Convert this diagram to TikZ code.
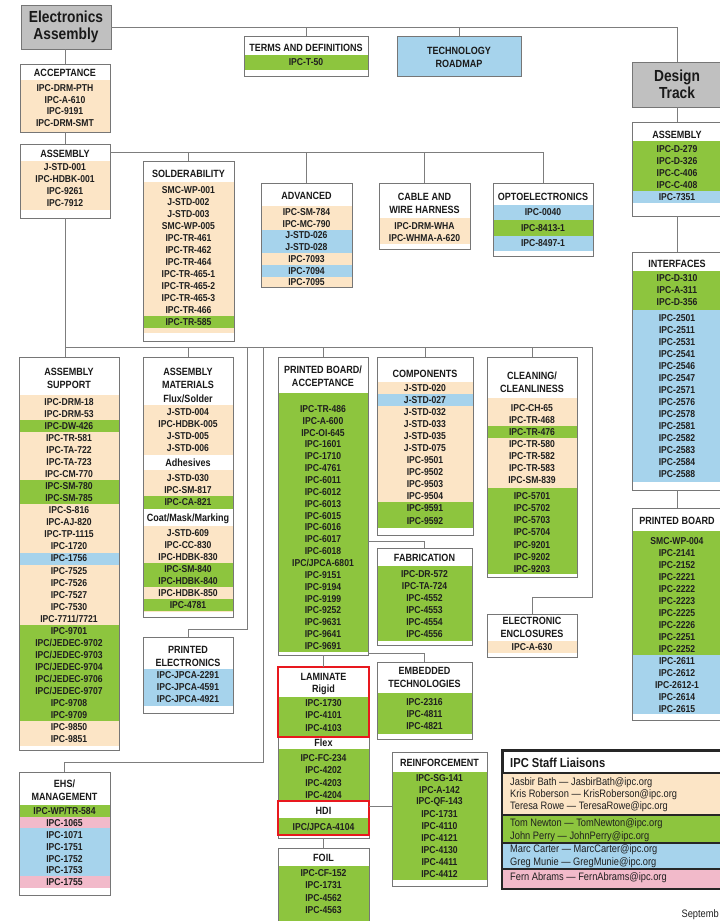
\documentclass[tikz,border=0pt]{standalone}
\usepackage{fontspec}
\setmainfont{Liberation Sans}[FakeStretch=0.86]
\usetikzlibrary{calc}
\definecolor{cTan}{RGB}{252,229,198}
\definecolor{cGrn}{RGB}{141,197,62}
\definecolor{cBlu}{RGB}{166,211,236}
\definecolor{cPnk}{RGB}{242,186,202}
\definecolor{hdrgray}{RGB}{192,192,192}
\definecolor{bordgray}{RGB}{118,118,118}
\definecolor{linegray}{RGB}{125,125,125}
\definecolor{redb}{RGB}{232,24,30}
\tikzset{
 boxnode/.style={draw=bordgray, line width=0.9pt, fill=white, inner sep=0pt, outer sep=0pt, rectangle},
 bordline/.style={draw=bordgray, line width=0.9pt},
 conn/.style={draw=linegray, line width=0.8pt},
 itemtext/.style={font=\fontsize{10}{11}\selectfont\bfseries, inner sep=0pt, text=black!88},
 headtext/.style={font=\fontsize{10.5}{13}\selectfont\bfseries, inner sep=0pt, align=center, text=black!90},
 bighead/.style={font=\fontsize{16}{17.5}\selectfont\bfseries, inner sep=0pt, align=center, text=black!90},
 redframe/.style={draw=redb, line width=2.4pt},
 liais/.style={font=\fontsize{10.8}{12}\selectfont, inner sep=0pt, anchor=west, text=black!88},
}
\newcount\nodeno
\newcommand\mkbox[5]{%
  \gdef\bxl{#2}\gdef\bxr{#4}%
  \node[boxnode, minimum width={(#4)-(#2)}, minimum height={(#5)-(#3)}] (#1) at ({((#2)+(#4))/2},{((#3)+(#5))/2}) {};}
\newcommand\mkband[3]{\fill[#1] (\bxl,#2) rectangle (\bxr,#3);}
\newcommand\mkitem[2]{\global\advance\nodeno by 1
  \node[itemtext] (n\the\nodeno) at ({(\bxl+\bxr)/2},#1) {#2};}
\newcommand\mkhead[2]{\global\advance\nodeno by 1
  \node[headtext] (n\the\nodeno) at ({(\bxl+\bxr)/2},#1) {#2};}
\newcommand\mkborder[1]{\draw[bordline] (#1.south west) rectangle (#1.north east);}
\begin{document}
\begin{tikzpicture}[x=1pt,y=-1pt]
\useasboundingbox (0,0) rectangle (720,921);
\clip (0,0) rectangle (720,921);
% ---------- top boxes
\node[boxnode, fill=hdrgray, minimum width=90, minimum height=44] (ea) at (66,27) {};
\node[bighead] (eat) at (ea.center) {Electronics\\Assembly};
\node[boxnode, fill=hdrgray, minimum width=90, minimum height=45] (dt) at (677,84.5) {};
\node[bighead] (dtt) at (dt.center) {Design\\Track};

\mkbox{terms}{244}{36}{368}{76}
\mkband{cGrn}{55}{70}
\mkhead{48}{TERMS AND DEFINITIONS}
\mkitem{62.5}{IPC-T-50}
\mkborder{terms}

\mkbox{tech}{397}{36}{521}{76}
\mkband{cBlu}{36}{76}
\mkhead{57}{TECHNOLOGY\\ROADMAP}
\mkborder{tech}

% ---------- left column
\mkbox{acc}{20}{64}{110}{132}
\mkband{cTan}{80}{132}
\mkhead{73}{ACCEPTANCE}
\foreach \t [count=\k from 0] in {IPC-DRM-PTH,IPC-A-610,IPC-9191,IPC-DRM-SMT} {\mkitem{88+11.6*\k}{\t}}
\mkborder{acc}

\mkbox{asml}{20}{144}{110}{218}
\mkband{cTan}{161}{210}
\mkhead{154}{ASSEMBLY}
\foreach \t [count=\k from 0] in {J-STD-001,IPC-HDBK-001,IPC-9261,IPC-7912} {\mkitem{167+12*\k}{\t}}
\mkborder{asml}

\mkbox{asup}{19}{357}{119}{750}
\mkband{cTan}{395}{746}
\mkband{cGrn}{402+12.04*2-6}{402+12.04*2+6}
\mkband{cGrn}{402+12.04*7-6}{402+12.04*8+6}
\mkband{cBlu}{402+12.04*13-6}{402+12.04*13+6}
\mkband{cGrn}{402+12.04*19-6}{402+12.04*26+6}
\mkhead{378.5}{ASSEMBLY\\SUPPORT}
\foreach \t [count=\k from 0] in {IPC-DRM-18,IPC-DRM-53,IPC-DW-426,IPC-TR-581,IPC-TA-722,IPC-TA-723,IPC-CM-770,IPC-SM-780,IPC-SM-785,IPC-S-816,IPC-AJ-820,IPC-TP-1115,IPC-1720,IPC-1756,IPC-7525,IPC-7526,IPC-7527,IPC-7530,{IPC-7711/7721},IPC-9701,{IPC/JEDEC-9702},{IPC/JEDEC-9703},{IPC/JEDEC-9704},{IPC/JEDEC-9706},{IPC/JEDEC-9707},IPC-9708,IPC-9709,IPC-9850,IPC-9851} {\mkitem{402+12.04*\k}{\t}}
\mkborder{asup}

\mkbox{ehs}{19}{772}{110}{895}
\mkband{cGrn}{805}{817}
\mkband{cPnk}{817}{828}
\mkband{cBlu}{828}{876}
\mkband{cPnk}{876}{888}
\mkhead{790}{EHS/\\MANAGEMENT}
\foreach \t [count=\k from 0] in {{IPC-WP/TR-584},IPC-1065,IPC-1071,IPC-1751,IPC-1752,IPC-1753,IPC-1755} {\mkitem{811+11.9*\k}{\t}}
\mkborder{ehs}

% ---------- second row, top
\mkbox{sold}{143}{161}{234}{341}
\mkband{cTan}{182}{333}
\mkband{cGrn}{316}{328}
\mkhead{174}{SOLDERABILITY}
\foreach \t [count=\k from 0] in {SMC-WP-001,J-STD-002,J-STD-003,SMC-WP-005,IPC-TR-461,IPC-TR-462,IPC-TR-464,IPC-TR-465-1,IPC-TR-465-2,IPC-TR-465-3,IPC-TR-466,IPC-TR-585} {\mkitem{190+12*\k}{\t}}
\mkborder{sold}

\mkbox{adv}{261}{183}{352}{287}
\mkband{cTan}{206}{287}
\mkband{cBlu}{229.6}{253.1}
\mkband{cBlu}{264.9}{276.6}
\mkhead{196}{ADVANCED}
\foreach \t [count=\k from 0] in {IPC-SM-784,IPC-MC-790,J-STD-026,J-STD-028,IPC-7093,IPC-7094,IPC-7095} {\mkitem{212+11.75*\k}{\t}}
\mkborder{adv}

\mkbox{cable}{379}{183}{470}{249}
\mkband{cTan}{218}{244}
\mkhead{203.5}{CABLE AND\\WIRE HARNESS}
\mkitem{226}{IPC-DRM-WHA}
\mkitem{238}{IPC-WHMA-A-620}
\mkborder{cable}

\mkbox{opto}{493}{183}{593}{256}
\mkband{cBlu}{205}{251}
\mkband{cGrn}{220}{236}
\mkhead{197}{OPTOELECTRONICS}
\mkitem{212.5}{IPC-0040}
\mkitem{228}{IPC-8413-1}
\mkitem{243.5}{IPC-8497-1}
\mkborder{opto}

% ---------- right column
\mkbox{rasm}{632}{122}{722}{216}
\mkband{cGrn}{141}{191}
\mkband{cBlu}{191}{203}
\mkhead{134.5}{ASSEMBLY}
\foreach \t [count=\k from 0] in {IPC-D-279,IPC-D-326,IPC-C-406,IPC-C-408,IPC-7351} {\mkitem{149+12*\k}{\t}}
\mkborder{rasm}

\mkbox{intf}{632}{252}{722}{490}
\mkband{cGrn}{271}{310}
\mkband{cBlu}{310}{482}
\mkhead{263.5}{INTERFACES}
\foreach \t [count=\k from 0] in {IPC-D-310,IPC-A-311,IPC-D-356} {\mkitem{278+12*\k}{\t}}
\foreach \t [count=\k from 0] in {IPC-2501,IPC-2511,IPC-2531,IPC-2541,IPC-2546,IPC-2547,IPC-2571,IPC-2576,IPC-2578,IPC-2581,IPC-2582,IPC-2583,IPC-2584,IPC-2588} {\mkitem{318+12*\k}{\t}}
\mkborder{intf}

\mkbox{rpb}{632}{508}{722}{720}
\mkband{cGrn}{531}{655}
\mkband{cBlu}{655}{714}
\mkhead{521}{PRINTED BOARD}
\foreach \t [count=\k from 0] in {SMC-WP-004,IPC-2141,IPC-2152,IPC-2221,IPC-2222,IPC-2223,IPC-2225,IPC-2226,IPC-2251,IPC-2252,IPC-2611,IPC-2612,IPC-2612-1,IPC-2614,IPC-2615} {\mkitem{541+12*\k}{\t}}
\mkborder{rpb}

% ---------- middle columns
\mkbox{amat}{143}{357}{233}{617}
\mkband{cTan}{405}{455}
\mkband{cTan}{470}{509}
\mkband{cGrn}{496}{509}
\mkband{cTan}{526}{612}
\mkband{cGrn}{563}{587}
\mkband{cGrn}{599}{611}
\mkhead{378.5}{ASSEMBLY\\MATERIALS}
\mkhead{398.5}{Flux/Solder}
\foreach \t [count=\k from 0] in {J-STD-004,IPC-HDBK-005,J-STD-005,J-STD-006} {\mkitem{412+12*\k}{\t}}
\mkhead{463}{Adhesives}
\foreach \t [count=\k from 0] in {J-STD-030,IPC-SM-817,IPC-CA-821} {\mkitem{478+12.2*\k}{\t}}
\mkhead{519}{Coat/Mask/Marking}
\foreach \t [count=\k from 0] in {J-STD-609,IPC-CC-830,IPC-HDBK-830,IPC-SM-840,IPC-HDBK-840,IPC-HDBK-850,IPC-4781} {\mkitem{533+12*\k}{\t}}
\mkborder{amat}

\mkbox{pe}{143}{637}{233}{713}
\mkband{cBlu}{669}{706}
\mkhead{656}{PRINTED\\ELECTRONICS}
\foreach \t [count=\k from 0] in {IPC-JPCA-2291,IPC-JPCA-4591,IPC-JPCA-4921} {\mkitem{675+12*\k}{\t}}
\mkborder{pe}

\mkbox{pba}{278}{357}{368}{655}
\mkband{cGrn}{393}{652}
\mkhead{376.5}{PRINTED BOARD/\\ACCEPTANCE}
\foreach \t [count=\k from 0] in {IPC-TR-486,IPC-A-600,IPC-OI-645,IPC-1601,IPC-1710,IPC-4761,IPC-6011,IPC-6012,IPC-6013,IPC-6015,IPC-6016,IPC-6017,IPC-6018,{IPC/JPCA-6801},IPC-9151,IPC-9194,IPC-9199,IPC-9252,IPC-9631,IPC-9641,IPC-9691} {\mkitem{409+11.85*\k}{\t}}
\mkborder{pba}

\mkbox{comp}{377}{357}{473}{535}
\mkband{cTan}{382}{502}
\mkband{cBlu}{394}{406}
\mkband{cGrn}{502}{528}
\mkhead{373.5}{COMPONENTS}
\foreach \t [count=\k from 0] in {J-STD-020,J-STD-027,J-STD-032,J-STD-033,J-STD-035,J-STD-075,IPC-9501,IPC-9502,IPC-9503,IPC-9504} {\mkitem{388+12*\k}{\t}}
\mkitem{508.5}{IPC-9591}
\mkitem{521}{IPC-9592}
\mkborder{comp}

\mkbox{fab}{377}{548}{472}{645}
\mkband{cGrn}{566}{641}
\mkhead{557.5}{FABRICATION}
\foreach \t [count=\k from 0] in {IPC-DR-572,IPC-TA-724,IPC-4552,IPC-4553,IPC-4554,IPC-4556} {\mkitem{574+12*\k}{\t}}
\mkborder{fab}

\mkbox{clean}{487}{357}{577}{577}
\mkband{cTan}{398}{488}
\mkband{cGrn}{426}{438}
\mkband{cGrn}{488}{574}
\mkhead{382.5}{CLEANING/\\CLEANLINESS}
\foreach \t [count=\k from 0] in {IPC-CH-65,IPC-TR-468,IPC-TR-476,IPC-TR-580,IPC-TR-582,IPC-TR-583,IPC-SM-839} {\mkitem{408+12*\k}{\t}}
\foreach \t [count=\k from 0] in {IPC-5701,IPC-5702,IPC-5703,IPC-5704,IPC-9201,IPC-9202,IPC-9203} {\mkitem{496+12.15*\k}{\t}}
\mkborder{clean}

\mkbox{encl}{487}{614}{577}{657}
\mkband{cTan}{641}{653}
\mkhead{627.5}{ELECTRONIC\\ENCLOSURES}
\mkitem{647}{IPC-A-630}
\mkborder{encl}

\mkbox{lam}{278}{667}{369}{838}
\mkband{cGrn}{697}{737}
\mkband{cGrn}{749}{800}
\mkband{cGrn}{818}{835}
\mkhead{677}{LAMINATE}
\mkhead{690}{Rigid}
\foreach \t [count=\k from 0] in {IPC-1730,IPC-4101,IPC-4103} {\mkitem{703+12.5*\k}{\t}}
\mkhead{743}{Flex}
\foreach \t [count=\k from 0] in {IPC-FC-234,IPC-4202,IPC-4203,IPC-4204} {\mkitem{758+12.3*\k}{\t}}
\mkhead{811}{HDI}
\mkitem{826.5}{IPC/JPCA-4104}
\mkborder{lam}
\draw[redframe] (278,667) rectangle (369,737);
\draw[redframe] (278,801) rectangle (369,835);

\mkbox{foil}{278}{848}{369}{935}
\mkband{cGrn}{866}{935}
\mkhead{857.5}{FOIL}
\foreach \t [count=\k from 0] in {IPC-CF-152,IPC-1731,IPC-4562,IPC-4563} {\mkitem{873+12.5*\k}{\t}}
\mkborder{foil}

\mkbox{emb}{377}{662}{472}{739}
\mkband{cGrn}{693}{734}
\mkhead{677.5}{EMBEDDED\\TECHNOLOGIES}
\foreach \t [count=\k from 0] in {IPC-2316,IPC-4811,IPC-4821} {\mkitem{702+12*\k}{\t}}
\mkborder{emb}

\mkbox{reinf}{392}{752}{487}{886}
\mkband{cGrn}{772}{880}
\mkhead{763}{REINFORCEMENT}
\foreach \t [count=\k from 0] in {IPC-SG-141,IPC-A-142,IPC-QF-143,IPC-1731,IPC-4110,IPC-4121,IPC-4130,IPC-4411,IPC-4412} {\mkitem{778+12*\k}{\t}}
\mkborder{reinf}

% ---------- staff liaisons
\node[draw=black!85, line width=2pt, fill=white, minimum width=227, minimum height=137, inner sep=0pt] (staff) at (616.5,819.5) {};
\fill[cTan] (503,773) rectangle (730,815);
\fill[cGrn] (503,815) rectangle (730,843);
\fill[cBlu] (503,843) rectangle (730,869);
\fill[cPnk] (503,869) rectangle (730,888);
\foreach \yy in {773,815,843,869} \draw[black!85, line width=1.6pt] (503,\yy) -- (730,\yy);
\draw[draw=black!85, line width=2pt] (staff.south west) rectangle (staff.north east);
\node[font=\fontsize{13}{14}\selectfont\bfseries, inner sep=0pt, anchor=west, text=black!90] (stafft) at (510,762.5) {IPC Staff Liaisons};
\node[liais] (l1) at (510,783) {Jasbir Bath — JasbirBath@ipc.org};
\node[liais] (l2) at (510,795) {Kris Roberson — KrisRoberson@ipc.org};
\node[liais] (l3) at (510,807) {Teresa Rowe — TeresaRowe@ipc.org};
\node[liais] (l4) at (510,824) {Tom Newton — TomNewton@ipc.org};
\node[liais] (l5) at (510,836.5) {John Perry — JohnPerry@ipc.org};
\node[liais] (l6) at (510,850) {Marc Carter — MarcCarter@ipc.org};
\node[liais] (l7) at (510,862.5) {Greg Munie — GregMunie@ipc.org};
\node[liais] (l8) at (510,878) {Fern Abrams — FernAbrams@ipc.org};
\node[liais, anchor=east] (sept) at (719,915) {Septemb};

% ---------- connectors
\draw[conn] (ea.east) -- (dt.north |- ea.east) -- (dt.north);
\draw[conn] (terms.north) -- (terms.north |- ea.east);
\draw[conn] (tech.north) -- (tech.north |- ea.east);
\draw[conn] (acc.north |- ea.south) -- (acc.north);
\draw[conn] (acc.south) -- (asml.north);
\coordinate (yb1) at (0,152);
\draw[conn] (asml.east |- yb1) -- (opto.north |- yb1) -- (opto.north);
\foreach \n in {sold,adv,cable} \draw[conn] (\n.north |- yb1) -- (\n.north);
\coordinate (yb2) at (0,347);
\draw[conn] (asml.south) -- (asml.south |- asup.north);
\coordinate (xr) at (592,0);
\coordinate (yenc) at (0,597);
\draw[conn] (asml.south |- yb2) -- (xr |- yb2) -- (xr |- yenc) -- (encl.north |- yenc) -- (encl.north);
\foreach \n in {amat,pba,comp,clean} \draw[conn] (\n.north |- yb2) -- (\n.north);
\coordinate (xa) at (247,0);
\coordinate (ype) at (0,629);
\draw[conn] (xa |- yb2) -- (xa |- ype) -- (pe.north |- ype) -- (pe.north);
\coordinate (xb) at (263,0);
\coordinate (yehs) at (0,762);
\draw[conn] (xb |- yb2) -- (xb |- yehs) -- (ehs.north |- yehs) -- (ehs.north);
\draw[conn] (pba.south) -- (pba.south |- lam.north);
\coordinate (yfab) at (0,541);
\draw[conn] (pba.east |- yfab) -- (fab.north |- yfab) -- (fab.north);
\coordinate (yemb) at (0,653);
\draw[conn] (pba.east |- yemb) -- (emb.north |- yemb) -- (emb.north);
\draw[conn] (lam.south) -- (lam.south |- foil.north);
\coordinate (yrf) at (0,806);
\draw[conn] (lam.east |- yrf) -- (reinf.west |- yrf);
\draw[conn] (dt.south) -- (rasm.north);
\draw[conn] (rasm.south) -- (intf.north);
\draw[conn] (intf.south) -- (rpb.north);
\end{tikzpicture}
\end{document}
